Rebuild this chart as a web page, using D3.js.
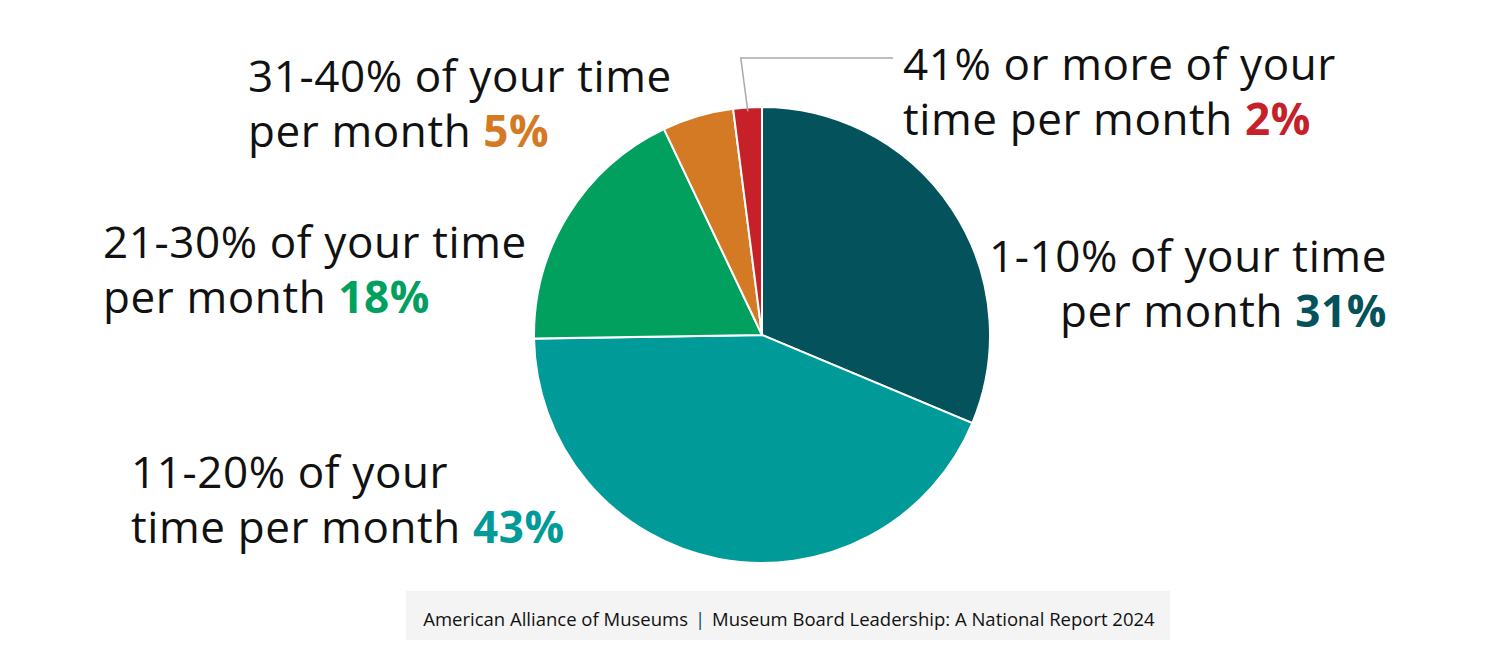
<!DOCTYPE html>
<html>
<head>
<meta charset="utf-8">
<script src="https://cdn.jsdelivr.net/npm/d3@7"></script>
<style>
  body { margin: 0; background: #fff; }
  text { font-family: "Open Sans", "Noto Sans", sans-serif; }
</style>
</head>
<body>
<div id="pie-chart"></div>
<script>
// slice data, clockwise from 12 o'clock
const categories = ["1-10%", "11-20%", "21-30%", "31-40%", "41% or more"];
const values = [31, 43, 18, 5, 2];
const colors = ["#04525b", "#009a98", "#02a05f", "#d57a24", "#c62128"];
// label lines (the value gets appended to the last line)
const labelLines = [
    ["1-10% of your time", "per month"],
    ["11-20% of your", "time per month"],
    ["21-30% of your time", "per month"],
    ["31-40% of your time", "per month"],
    ["41% or more of your", "time per month"]
];
const footerLeft = "American Alliance of Museums";
const footerRight = "Museum Board Leadership: A National Report 2024";

const width = 1502;
const height = 650;
const cx = 762, cy = 335, radius = 228;

const svg = d3.select("#pie-chart")
    .append("svg")
    .attr("width", width)
    .attr("height", height)
    .attr("viewBox", `0, 0, ${width}, ${height}`);

const pie = d3.pie().sort(null).value(d => d)(values);
const arc = d3.arc().innerRadius(0).outerRadius(radius);

const pieG = svg.append("g")
    .attr("transform", `translate(${cx}, ${cy})`);

pieG.selectAll("path")
    .data(pie)
    .join("path")
    .attr("d", arc)
    .attr("fill", (d, i) => colors[i])
    .attr("stroke", "#fff")
    .attr("stroke-width", 2);

// label placement: [x, first baseline, anchor]
const labelPos = [
    [1387, 272, "end"],
    [131, 488, "start"],
    [103, 258, "start"],
    [248, 92, "start"],
    [903, 80, "start"]
];
const lineGap = 55;
const fontSize = 44;

labelLines.forEach((lines, i) => {
    const [x, y, anchor] = labelPos[i];
    const t = svg.append("text")
        .attr("x", x)
        .attr("y", y)
        .attr("text-anchor", anchor)
        .attr("font-size", fontSize)
        .attr("letter-spacing", 0.6)
        .attr("fill", "#111");
    lines.forEach((line, j) => {
        const ts = t.append("tspan")
            .attr("x", x)
            .attr("y", y + j * lineGap)
            .text(line);
        if (j === lines.length - 1) {
            ts.text(line + " ");
            ts.append("tspan")
                .attr("font-weight", "bold")
                .attr("fill", colors[i])
                .text(values[i] + "%");
        }
    });
});

// leader line for the small red slice
const red = pie[4];
const midA = (red.startAngle + red.endAngle) / 2;
const p0 = [cx + Math.sin(midA) * (radius - 4), cy - Math.cos(midA) * (radius - 4)];
svg.append("polyline")
    .attr("points", `${p0[0]},${p0[1]} ${p0[0] - 7},58 893,58`)
    .attr("fill", "none")
    .attr("stroke", "#a9a9a9")
    .attr("stroke-width", 1.5);

// footer
svg.append("rect")
    .attr("x", 406)
    .attr("y", 591)
    .attr("width", 764)
    .attr("height", 49)
    .attr("fill", "#f4f4f4");

const footG = svg.append("g")
    .attr("font-size", 18.5)
    .attr("fill", "#111");
footG.append("text")
    .attr("x", 688)
    .attr("y", 626)
    .attr("text-anchor", "end")
    .text(footerLeft);
footG.append("text")
    .attr("x", 700)
    .attr("y", 626)
    .attr("text-anchor", "middle")
    .attr("fill", "#04525b")
    .text("|");
footG.append("text")
    .attr("x", 712)
    .attr("y", 626)
    .text(footerRight);
</script>
</body>
</html>
